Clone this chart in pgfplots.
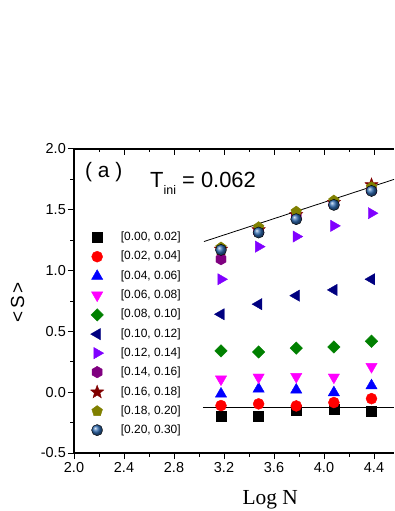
\documentclass[border=0pt]{standalone}
\usepackage{fontspec}
\setmainfont{Liberation Sans}
\newfontfamily\seriffont{Liberation Serif}
\usepackage{pgfplots}
\pgfplotsset{compat=1.18}
\usetikzlibrary{plotmarks}

\pgfdeclareplotmark{hexagon*}{%
  \pgfpathmoveto{\pgfpointpolar{90}{1.0\pgfplotmarksize}}%
  \pgfpathlineto{\pgfpointpolar{150}{1.0\pgfplotmarksize}}%
  \pgfpathlineto{\pgfpointpolar{210}{1.0\pgfplotmarksize}}%
  \pgfpathlineto{\pgfpointpolar{270}{1.0\pgfplotmarksize}}%
  \pgfpathlineto{\pgfpointpolar{330}{1.0\pgfplotmarksize}}%
  \pgfpathlineto{\pgfpointpolar{30}{1.0\pgfplotmarksize}}%
  \pgfpathclose
  \pgfusepathqfillstroke}
\pgfdeclareplotmark{fivestar*}{%
  \pgfpathmoveto{\pgfpointpolar{90}{1.0\pgfplotmarksize}}%
  \pgfpathlineto{\pgfpointpolar{126}{0.42\pgfplotmarksize}}%
  \pgfpathlineto{\pgfpointpolar{162}{1.0\pgfplotmarksize}}%
  \pgfpathlineto{\pgfpointpolar{198}{0.42\pgfplotmarksize}}%
  \pgfpathlineto{\pgfpointpolar{234}{1.0\pgfplotmarksize}}%
  \pgfpathlineto{\pgfpointpolar{270}{0.42\pgfplotmarksize}}%
  \pgfpathlineto{\pgfpointpolar{306}{1.0\pgfplotmarksize}}%
  \pgfpathlineto{\pgfpointpolar{342}{0.42\pgfplotmarksize}}%
  \pgfpathlineto{\pgfpointpolar{18}{1.0\pgfplotmarksize}}%
  \pgfpathlineto{\pgfpointpolar{54}{0.42\pgfplotmarksize}}%
  \pgfpathclose
  \pgfusepathqfillstroke}

\definecolor{cred}{RGB}{255,0,0}
\definecolor{cblue}{RGB}{0,0,255}
\definecolor{cmag}{RGB}{255,0,255}
\definecolor{cgreen}{RGB}{0,128,0}
\definecolor{cnavy}{RGB}{0,0,128}
\definecolor{cviolet}{RGB}{128,0,255}
\definecolor{cpurple}{RGB}{128,0,128}
\definecolor{cwine}{RGB}{128,0,0}
\definecolor{colive}{RGB}{128,128,0}
\definecolor{cball}{RGB}{45,105,175}

\begin{document}
\begin{tikzpicture}
\useasboundingbox (0,0) rectangle (395bp,511bp);
\pgfplotsset{common/.style={
  scale only axis, width=320bp, height=304bp,
  at={(74bp,58bp)}, anchor=south west,
  xmin=2, xmax=4.56, ymin=-0.5, ymax=2.0,
  xtick={2.0,2.4,2.8,3.2,3.6,4.0,4.4}, minor x tick num=1,
  major tick length=6bp, minor tick length=3.5bp,
  tick style={line width=1bp, black},
  axis line style={line width=1.2bp},
}}
% top axis with inward ticks
\begin{axis}[common, axis x line*=top, axis y line=none,
  tick align=inside, xticklabels={}]
\end{axis}
\begin{axis}[common, axis x line*=bottom, axis y line*=left,
  tick align=outside,
  ytick={-0.5,0,0.5,1.0,1.5,2.0}, minor y tick num=1,
  /pgf/number format/assume math mode=true,
  /pgf/number format/fixed, /pgf/number format/fixed zerofill,
  /pgf/number format/precision=1,
  ticklabel style={font=\fontsize{14.5}{16}\selectfont},
  yticklabel style={inner sep=0pt, xshift=-2bp},
  xticklabel style={inner sep=0pt, yshift=-3bp},
  xlabel={Log N}, ylabel={<\hspace{2.5bp}S\hspace{2.5bp}>},
  every axis x label/.style={at={(axis description cs:0.613,-0.171)}, anchor=base, font=\fontsize{21.5}{22}\selectfont\seriffont},
  every axis y label/.style={at={(axis description cs:-0.1766,0.495)}, anchor=center, rotate=90, font=\fontsize{19}{19}\selectfont},
  legend cell align=left,
  legend style={at={(axis description cs:0.0516,0.728)}, anchor=north west,
    draw=none, fill=none, inner sep=0pt, outer sep=0pt, row sep=7.0bp,
    font=\fontsize{12}{12}\selectfont,
    nodes={inner sep=0pt, text height=9bp, text depth=3bp},
    /tikz/every odd column/.style={column sep=17bp}},
]
\addplot[forget plot, black, line width=0.8bp] coordinates {(3.04,1.239) (4.56,1.750)};
\addplot[forget plot, black, line width=0.8bp] coordinates {(3.03,-0.127) (4.56,-0.127)};

\addplot[only marks, mark=square*, mark size=5bp, black] coordinates {(3.176,-0.200)(3.477,-0.195)(3.778,-0.145)(4.079,-0.140)(4.380,-0.156)};
\addlegendentry{[0.00, 0.02]}
\addplot[only marks, mark=*, mark size=5.5bp, cred] coordinates {(3.176,-0.110)(3.477,-0.096)(3.778,-0.113)(4.079,-0.085)(4.380,-0.053)};
\addlegendentry{[0.02, 0.04]}
\addplot[only marks, mark=triangle*, mark size=6.5bp, cblue] coordinates {(3.176,-0.014)(3.477,0.027)(3.778,0.019)(4.079,-0.003)(4.380,0.054)};
\addlegendentry{[0.04, 0.06]}
\addplot[only marks, mark=triangle*, mark size=6.5bp, mark options={rotate=180}, cmag] coordinates {(3.176,0.107)(3.477,0.123)(3.778,0.128)(4.079,0.123)(4.380,0.210)};
\addlegendentry{[0.06, 0.08]}
\addplot[only marks, mark=square*, mark size=4.4bp, mark options={rotate=45}, cgreen] coordinates {(3.176,0.340)(3.477,0.331)(3.778,0.362)(4.079,0.372)(4.380,0.419)};
\addlegendentry{[0.08, 0.10]}
\addplot[only marks, mark=triangle*, mark size=6.5bp, mark options={rotate=90}, cnavy] coordinates {(3.176,0.641)(3.477,0.724)(3.778,0.794)(4.079,0.841)(4.380,0.929)};
\addlegendentry{[0.10, 0.12]}
\addplot[only marks, mark=triangle*, mark size=6.5bp, mark options={rotate=-90}, cviolet] coordinates {(3.176,0.929)(3.477,1.197)(3.778,1.280)(4.079,1.368)(4.380,1.472)};
\addlegendentry{[0.12, 0.14]}
\addplot[only marks, mark=hexagon*, mark size=5.8bp, cpurple] coordinates {(3.176,1.094)(3.477,1.320)(3.778,1.440)(4.079,1.550)(4.380,1.660)};
\addlegendentry{[0.14, 0.16]}
\addplot[only marks, mark=fivestar*, mark size=7bp, cwine] coordinates {(3.176,1.175)(3.477,1.335)(3.778,1.460)(4.079,1.560)(4.380,1.705)};
\addlegendentry{[0.16, 0.18]}
\addplot[only marks, mark=pentagon*, mark size=5.6bp, colive] coordinates {(3.176,1.190)(3.477,1.357)(3.778,1.485)(4.079,1.576)(4.380,1.686)};
\addlegendentry{[0.18, 0.20]}
\addplot[only marks, mark=ball, mark size=5.6bp, ball color=cball] coordinates {(3.176,1.170)(3.477,1.313)(3.778,1.423)(4.079,1.540)(4.380,1.655)};
\addlegendentry{[0.20, 0.30]}

\node[anchor=base west, inner sep=0pt, font=\fontsize{21}{21}\selectfont] at (axis cs:2.088,1.762) {( a )};
\node[anchor=base west, inner sep=0pt, font=\fontsize{22}{22}\selectfont] at (axis cs:2.608,1.680) {T\raisebox{-0.3em}{\fontsize{12.5}{12.5}\selectfont ini} = 0.062};
\end{axis}
\end{tikzpicture}
\end{document}
